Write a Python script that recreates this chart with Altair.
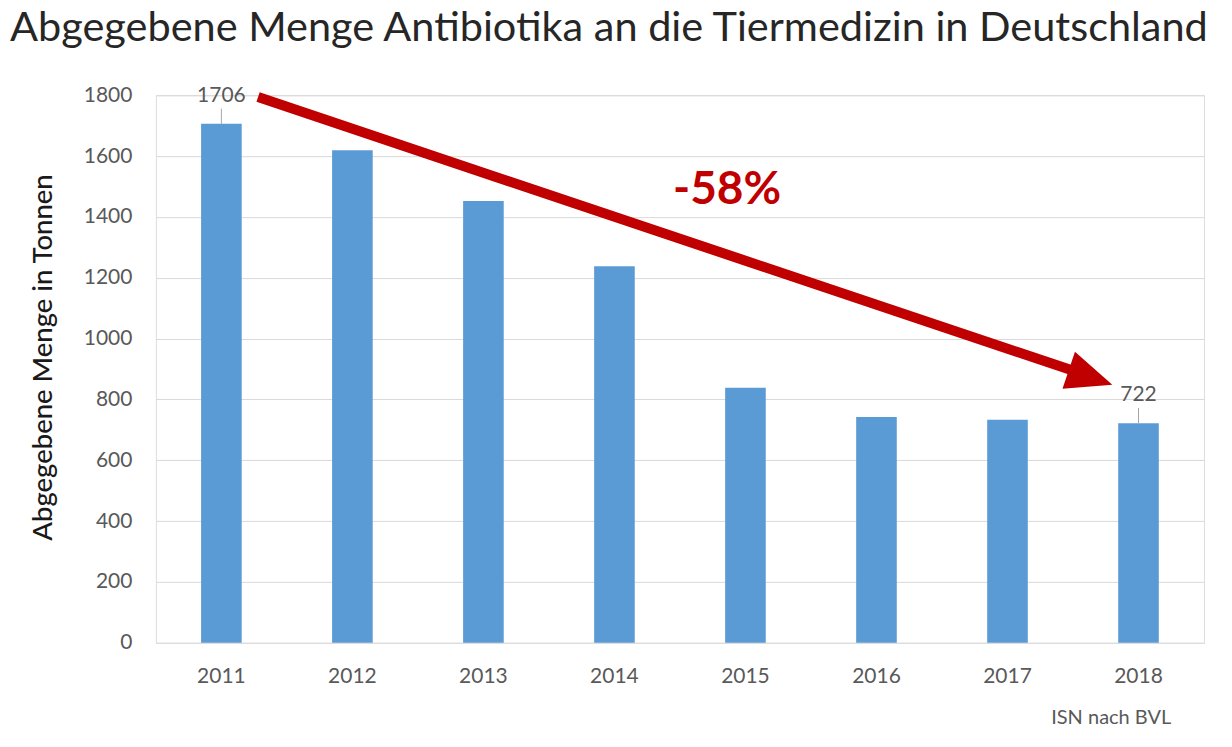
import altair as alt
import pandas as pd

# ---- data ----
years = ["2011", "2012", "2013", "2014", "2015", "2016", "2017", "2018"]
tonnes = [1706, 1619, 1452, 1238, 838, 742, 733, 722]

label_years = ["2011", "2018"]
label_values = [1706, 722]

# arrow annotation (x in bar-slot units 0..8, y in tonnes)
arrow_x = [0.78, 7.10]
arrow_y = [1794, 880]
head_x = [7.30]
head_y = [848]

pct_text = ["-58%"]
pct_x = [4.36]
pct_y = [1488]

source_text = ["ISN nach BVL"]
source_x = [7.75]
source_y = [-248]

W, H = 1049, 548
FONT = "Lato"

bars_df = pd.DataFrame({"year": years, "t": tonnes})
lab_df = pd.DataFrame({"year": label_years, "t": label_values})
arrow_df = pd.DataFrame({"ax": arrow_x, "ay": arrow_y})
head_df = pd.DataFrame({"ax": head_x, "ay": head_y})
pct_df = pd.DataFrame({"ax": pct_x, "ay": pct_y, "txt": pct_text})
src_df = pd.DataFrame({"ax": source_x, "ay": source_y, "txt": source_text})

yscale = alt.Scale(domain=[0, 1800], nice=False)
xband = alt.Scale(paddingInner=0.69, paddingOuter=0.345)
xq = alt.Scale(domain=[0, 8], nice=False, zero=False)

bars = alt.Chart(bars_df).mark_bar(color="#5B9BD5").encode(
    x=alt.X("year:N", scale=xband, sort=years,
            axis=alt.Axis(title=None, labelAngle=0, labelFontSize=21, labelFont=FONT,
                          labelColor="#595959", labelPadding=23, ticks=False,
                          domain=False, grid=False)),
    y=alt.Y("t:Q", scale=yscale,
            axis=alt.Axis(values=list(range(0, 1801, 200)), format="d", labelFontSize=21,
                          labelFont=FONT, labelColor="#595959", labelPadding=24,
                          ticks=False, domain=False, grid=True, gridColor="#d9d9d9",
                          title="Abgegebene Menge in Tonnen", titleFont=FONT,
                          titleFontSize=27.5, titleFontWeight=500, titleColor="#1a1a1a",
                          titleX=-98, titleY=262, titleAngle=-90)),
)

leaders = alt.Chart(lab_df).transform_calculate(t2="datum.t + 50").mark_rule(
    color="#a6a6a6", strokeWidth=1).encode(
    x=alt.X("year:N", scale=xband, sort=years),
    y=alt.Y("t:Q", scale=yscale),
    y2="t2:Q",
)

labels = alt.Chart(lab_df).mark_text(
    font=FONT, fontSize=21, color="#595959", baseline="alphabetic", dy=-22).encode(
    x=alt.X("year:N", scale=xband, sort=years),
    y=alt.Y("t:Q", scale=yscale),
    text=alt.Text("t:Q", format="d"),
)

arrow_line = alt.Chart(arrow_df).mark_line(color="#C00000", strokeWidth=10,
                                           strokeCap="butt").encode(
    x=alt.X("ax:Q", scale=xq, axis=None),
    y=alt.Y("ay:Q", scale=yscale),
)

arrow_head = alt.Chart(head_df).mark_point(
    shape="M0,0L-2,-0.85L-2,0.85Z", filled=True, color="#C00000", opacity=1,
    size=2116, angle=18.6, strokeWidth=0).encode(
    x=alt.X("ax:Q", scale=xq, axis=None),
    y=alt.Y("ay:Q", scale=yscale),
)

pct = alt.Chart(pct_df).mark_text(
    font=FONT, fontSize=46, fontWeight="bold", color="#C00000",
    align="center", baseline="middle").encode(
    x=alt.X("ax:Q", scale=xq, axis=None),
    y=alt.Y("ay:Q", scale=yscale),
    text="txt:N",
)

src = alt.Chart(src_df).mark_text(
    font=FONT, fontSize=20, color="#595959", align="right", baseline="middle").encode(
    x=alt.X("ax:Q", scale=xq, axis=None),
    y=alt.Y("ay:Q", scale=yscale),
    text="txt:N",
)

band_layer = alt.layer(bars, leaders, labels)
q_layer = alt.layer(arrow_line, arrow_head, pct, src)

chart = alt.layer(band_layer, q_layer).resolve_scale(x="independent").properties(
    width=W, height=H,
    title=alt.TitleParams(
        "Abgegebene Menge Antibiotika an die Tiermedizin in Deutschland",
        anchor="start", frame="group", dx=-146, font=FONT, fontSize=41.5,
        fontWeight="normal", color="#262626", offset=28),
    autosize=alt.AutoSizeParams(type="none"),
    padding={"left": 148, "top": 87, "right": 20, "bottom": 100},
).configure_view(stroke=None).configure(background="white")

chart.save("out.html", embed_options={"renderer": "svg", "actions": False})
